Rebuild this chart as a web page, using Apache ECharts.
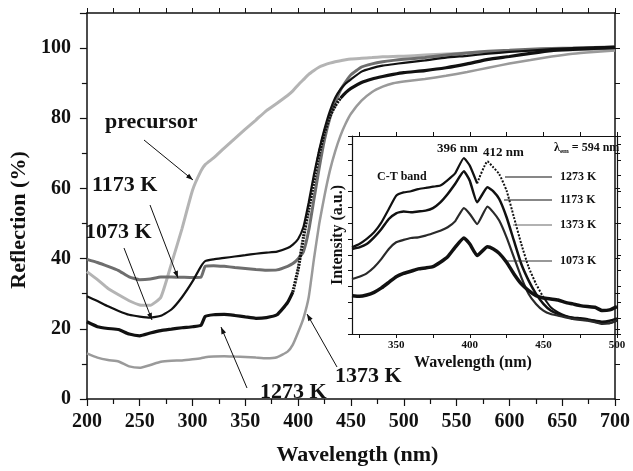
<!DOCTYPE html>
<html>
<head>
<meta charset="utf-8">
<script src="https://cdn.jsdelivr.net/npm/echarts@6/dist/echarts.min.js"></script>
<style>
  html, body { margin: 0; padding: 0; background: #fff; }
  #chart { width: 633px; height: 471px; }
</style>
</head>
<body>
<div id="chart"></div>
<script>
// main plot: reflection spectra
var wavelength = [200,210,220,230,240,250,260,270,280,290,300,308,312,320,330,340,350,360,370,380,390,395,400,405,410,415,420,425,430,435,440,445,450,460,470,480,490,500,520,540,560,580,600,620,640,660,680,700];
var precursor = [36.3,34,31.5,29.7,28,26.8,26.7,29,38.5,48.5,59.5,65,66.8,68.7,71.5,74.2,76.9,79.5,82.2,84.3,86.5,87.8,89.5,91,92.5,93.6,94.6,95.2,95.7,96.1,96.4,96.7,96.9,97.1,97.3,97.5,97.6,97.7,98,98.3,98.6,98.9,99.1,99.3,99.4,99.5,99.6,99.7];
var k1173 = [39.8,38.9,37.8,36.6,34.8,34,34.2,34.8,34.8,34.7,34.6,34.7,37.8,38,37.8,37.5,37.2,36.9,36.7,36.8,37.8,38.6,40,42,48,57,66,74,80,84.5,88,90.4,92.4,94.6,95.5,96.1,96.5,96.8,97.3,98,98.6,99.1,99.4,99.7,99.9,100,100.2,100.3];
var k1073 = [29.3,27.9,26.4,25.1,24,23.5,23.2,23.7,25.5,29,33.5,37.8,39.3,39.8,40.2,40.6,41,41.4,41.7,42,43,44,45.6,49,56,64,71,77,82,85.8,88.2,89.9,91.1,93.3,94.3,95,95.4,95.8,96.5,97.3,97.8,98.4,98.9,99.3,99.7,100,100.2,100.4];
var k1273 = [22,20.6,20.1,19.8,18.5,18,18.8,19.5,19.9,20.3,20.6,21,23.5,24,24.1,23.8,23.4,23,23.2,24,27.5,30.5,37,46,54,62,70,76,80.5,83.5,85.7,87.3,88.5,90.2,91.2,91.9,92.5,93,93.6,94.4,95.5,96.8,97.6,98.5,99.3,99.6,99.9,100.1];
var k1373 = [13,11.8,11.1,10.7,9.3,8.9,9.7,10.6,10.9,11,11.3,11.6,11.9,12.1,12.2,12.1,12,11.8,11.6,11.9,13.5,15.5,19,23,29,40,50,58,65,70.5,75,78.5,81.3,85,87.5,89,90,90.5,91.2,92.1,93.2,94.4,95.6,96.6,97.6,98.4,98.9,99.3];

// inset: excitation spectra
var insetWl = [320,325,330,335,340,345,350,355,360,365,370,375,380,385,390,396,400,405,412,416,420,425,430,435,440,445,450,455,460,465,470,475,480,485,490,495,500];
var in1273 = [54.7,56.8,60,64.2,70.5,78.9,87.3,89.4,90.1,91.5,92.2,93,93.7,97.2,101.4,111.1,106.3,95.1,109,105.2,101,90.5,73.7,56.8,42.1,31.6,23.2,16.9,13.7,11.6,10.5,10.1,9.5,8.4,7.4,6.8,8.4];
var in1173 = [53.7,54.7,56.8,61,66.3,72.6,76.2,77.4,76.8,77.4,77.9,79.5,83.1,88.4,94.7,102.7,96.8,83.1,92.6,90.1,85.2,73.7,58.9,44.2,33.7,25.3,19,14.8,12.6,11,10.1,9.5,8.9,8.4,7.8,8.4,9.9];
var in1373 = [34.7,36.2,38.3,42.1,47.4,53.7,57.9,59.4,60.6,61,62.1,63.6,65.2,67.4,71.1,79.5,75.8,69.4,80.4,76.8,71.6,61,48.4,35.8,25.3,19,14.8,12.6,11.6,10.5,9.5,8.9,8.4,7.4,6.3,6.8,8.4];
var in1073 = [24.2,23.8,24.6,26.3,29.1,32.6,36.2,38.3,39.6,41.1,41.7,42.5,45.3,48.8,54.7,60.6,56.8,49.5,55.1,53.7,50.9,45.3,37.9,31.6,27.4,24.2,22.7,22.1,21.5,20,19,17.9,17.3,16.9,14.8,15.2,17.3];

var mainTicks = [200,250,300,350,400,450,500,550,600,650,700];
var insetLabels = [350,400,450,500];
var insetTicks = [325,350,375,400,425,450,475,500];

var serif = '"Liberation Serif", "Times New Roman", serif';
var ink = '#111';

function pairs(xs, ys, from, to) {
  return xs.map(function (x, i) {
    return (x >= from && x <= to) ? [x, ys[i]] : [x, null];
  });
}

function line(name, data, xi, color, width, type) {
  return {
    name: name,
    type: 'line',
    xAxisIndex: xi,
    yAxisIndex: xi,
    data: data,
    showSymbol: false,
    smooth: 0.15,
    connectNulls: false,
    silent: true,
    z: xi ? 5 : 2,
    lineStyle: { color: color, width: width, type: type || 'solid' }
  };
}

function arrow(x1, y1, x2, y2) {
  var a = Math.atan2(y2 - y1, x2 - x1);
  var h = 7, w = 2.5;
  var c = Math.cos(a), s = Math.sin(a);
  return [{
    type: 'line', z: 50,
    shape: { x1: x1, y1: y1, x2: x2, y2: y2 },
    style: { stroke: ink, lineWidth: 1 }
  }, {
    type: 'polygon', z: 50,
    shape: { points: [[x2, y2], [x2 - h * c + w * s, y2 - h * s - w * c], [x2 - h * c - w * s, y2 - h * s + w * c]] },
    style: { fill: ink }
  }];
}

function label(text, x, y, size) {
  return {
    type: 'text', z: 50,
    style: {
      text: text, x: x, y: y, fill: ink,
      font: 'bold ' + size + 'px ' + serif,
      verticalAlign: 'middle'
    }
  };
}

function hline(x1, x2, y, color) {
  return {
    type: 'line', z: 50,
    shape: { x1: x1, y1: y, x2: x2, y2: y },
    style: { stroke: color, lineWidth: 1.2 }
  };
}

var graphics = [].concat(
  label('precursor', 105, 122, 22),
  arrow(144, 140, 193, 180),
  label('1173 K', 92, 185, 22),
  arrow(150, 205, 178, 278),
  label('1073 K', 85, 232, 22),
  arrow(124, 248, 152, 320),
  label('1273 K', 260, 392, 22),
  arrow(247, 388, 221, 327),
  label('1373 K', 335, 376, 22),
  arrow(337, 367, 307, 314),
  label('396 nm', 437, 149, 13),
  label('412 nm', 483, 153, 13),
  label('C-T band', 377, 177, 12),
  hline(505, 552, 177, ink), label('1273 K', 560, 177, 12),
  hline(504, 552, 200, ink), label('1173 K', 560, 200, 12),
  hline(513, 552, 225, '#666'), label('1373 K', 560, 225, 12),
  hline(507, 552, 261, '#333'), label('1073 K', 560, 261, 12),
  [{
    type: 'text', z: 50,
    style: {
      text: '{a|λ}{b|em}{a| = 594 nm}', x: 554, y: 148, verticalAlign: 'middle',
      rich: {
        a: { font: 'bold 12px ' + serif, fill: ink },
        b: { font: 'bold 7px ' + serif, fill: ink, padding: [7, 0, 0, 0] }
      }
    }
  }]
);

var boldTxt = { color: ink, fontFamily: serif, fontWeight: 'bold' };

var chart = echarts.init(document.getElementById('chart'));
chart.setOption({
  backgroundColor: '#fff',
  animation: false,
  grid: [
    { left: 82, right: 16, top: 13, bottom: 64 },
    { left: 352, right: 16, top: 136, bottom: 137, show: true, backgroundColor: '#fff', borderWidth: 0 }
  ],
  xAxis: [{
    gridIndex: 0, type: 'value', position: 'bottom', min: 200, max: 700, interval: 50,
    name: 'Wavelength (nm)', nameLocation: 'middle', nameGap: 45,
    nameTextStyle: Object.assign({ fontSize: 22, padding: [0, 0, 0, 13] }, boldTxt),
    axisLine: { onZero: false, lineStyle: { color: ink, width: 1.5 } },
    axisTick: { length: 7, lineStyle: { color: ink, width: 1.2 } },
    minorTick: { show: true, splitNumber: 2, length: 5, lineStyle: { color: ink, width: 1.2 } },
    axisLabel: Object.assign({ fontSize: 20, margin: 13, customValues: mainTicks }, boldTxt),
    splitLine: { show: false }
  }, {
    gridIndex: 0, type: 'value', position: 'top', min: 200, max: 700, interval: 25,
    axisLine: { onZero: false, lineStyle: { color: ink, width: 1.5 } },
    axisTick: { length: 5, lineStyle: { color: ink } },
    axisLabel: { show: false },
    splitLine: { show: false }
  }, {
    gridIndex: 1, type: 'value', position: 'bottom', min: 320, max: 500,
    name: 'Wavelength (nm)', nameLocation: 'middle', nameGap: 21,
    nameTextStyle: Object.assign({ fontSize: 16, padding: [0, 23, 0, 0] }, boldTxt),
    axisLine: { onZero: false, lineStyle: { color: ink, width: 1.2 } },
    axisTick: { length: 4, customValues: insetTicks, lineStyle: { color: ink } },
    axisLabel: Object.assign({ fontSize: 11, margin: 6, customValues: insetLabels }, boldTxt),
    splitLine: { show: false }
  }, {
    gridIndex: 1, type: 'value', position: 'top', min: 320, max: 500,
    axisLine: { onZero: false, lineStyle: { color: ink, width: 1.2 } },
    axisTick: { length: 4, customValues: insetTicks, lineStyle: { color: ink } },
    axisLabel: { show: false },
    splitLine: { show: false }
  }],
  yAxis: [{
    gridIndex: 0, type: 'value', position: 'left', min: 0, max: 110, interval: 20,
    name: 'Reflection (%)', nameLocation: 'middle', nameGap: 51,
    nameTextStyle: Object.assign({ fontSize: 22, padding: [0, 28, 0, 0] }, boldTxt),
    axisLine: { onZero: false, lineStyle: { color: ink, width: 1.5 } },
    axisTick: { length: 7, lineStyle: { color: ink, width: 1.2 } },
    minorTick: { show: true, splitNumber: 2, length: 5, lineStyle: { color: ink, width: 1.2 } },
    axisLabel: Object.assign({ fontSize: 20, margin: 16, showMaxLabel: false }, boldTxt),
    splitLine: { show: false }
  }, {
    gridIndex: 0, type: 'value', position: 'right', min: 0, max: 110, interval: 10,
    axisLine: { onZero: false, lineStyle: { color: ink, width: 1.5 } },
    axisTick: { length: 5, lineStyle: { color: ink } },
    axisLabel: { show: false },
    splitLine: { show: false }
  }, {
    gridIndex: 1, type: 'value', position: 'left', min: 0, max: 125, interval: 10,
    name: 'Intensity (a.u.)', nameLocation: 'middle', nameGap: 6,
    nameTextStyle: Object.assign({ fontSize: 16 }, boldTxt),
    axisLine: { onZero: false, lineStyle: { color: ink, width: 1.2 } },
    axisTick: { length: 4, lineStyle: { color: ink } },
    axisLabel: { show: false },
    splitLine: { show: false }
  }, {
    gridIndex: 1, type: 'value', position: 'right', min: 0, max: 125, interval: 10,
    axisLine: { onZero: false, lineStyle: { color: ink, width: 1.2 } },
    axisTick: { length: 4, lineStyle: { color: ink } },
    axisLabel: { show: false },
    splitLine: { show: false }
  }],
  series: [
    line('precursor', pairs(wavelength, precursor, 0, 9999), 0, '#b4b4b4', 3),
    line('1373 K', pairs(wavelength, k1373, 0, 9999), 0, '#9a9a9a', 2.5),
    line('1173 K', pairs(wavelength, k1173, 0, 9999), 0, '#6e6e6e', 3),
    line('1073 K', pairs(wavelength, k1073, 0, 9999), 0, ink, 2.2),
    line('1273 K', pairs(wavelength, k1273, 0, 395), 0, ink, 3.2),
    line('1273 K dotted', pairs(wavelength, k1273, 395, 440), 0, ink, 3.2, [2, 1]),
    line('1273 K upper', pairs(wavelength, k1273, 440, 9999), 0, ink, 3.2),
    line('1273 K inset', pairs(insetWl, in1273, 0, 405), 2, ink, 2.2),
    line('1273 K inset dotted', pairs(insetWl, in1273, 405, 450), 2, ink, 2, [2, 1.5]),
    line('1273 K inset tail', pairs(insetWl, in1273, 450, 9999), 2, ink, 2),
    line('1173 K inset', pairs(insetWl, in1173, 0, 9999), 2, ink, 2.5),
    line('1373 K inset', pairs(insetWl, in1373, 0, 9999), 2, '#2a2a2a', 2.2),
    line('1073 K inset', pairs(insetWl, in1073, 0, 9999), 2, ink, 3.5)
  ],
  graphic: graphics
});
</script>
</body>
</html>
